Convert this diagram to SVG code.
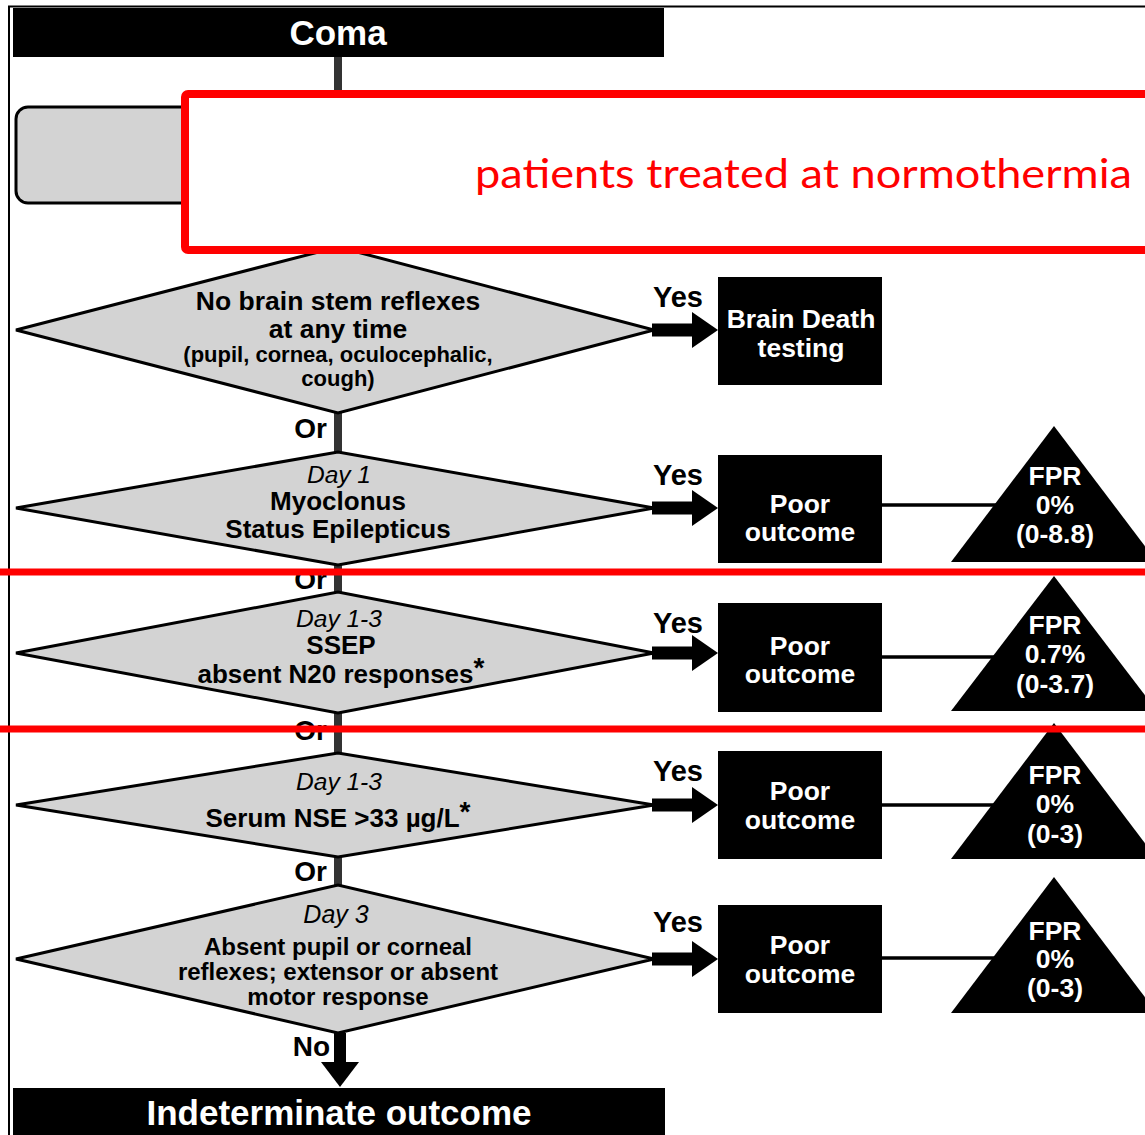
<svg xmlns="http://www.w3.org/2000/svg" width="1145" height="1135" viewBox="0 0 1145 1135">
<defs>
<style>
.t{font-family:"Liberation Sans",Arial,Helvetica,sans-serif;font-weight:bold;text-anchor:middle;}
.w{fill:#fff;}
.k{fill:#000;}
.it{font-style:italic;font-weight:normal;}
.dia{fill:#d3d3d3;stroke:#000;stroke-width:3;stroke-linejoin:miter;}
.box{fill:#000;}
.tri{fill:#000;}
.conn{stroke:#333;stroke-width:8;fill:none;}
.hl{stroke:#000;stroke-width:3.5;fill:none;}
.arr{fill:#000;}
.or{font-size:28px;text-anchor:end;}
.yes{font-size:29px;text-anchor:start;}
.m{font-size:26.5px;}
.dm{font-size:26px;}
.s{font-size:22px;}
.d5{font-size:24px;}
.day{font-size:24.5px;}
.ast{font-size:28px;}
</style>
</defs>
<rect x="0" y="0" width="1145" height="1135" fill="#fff"/>
<path d="M9 1135 V6.5 H1145" stroke="#000" stroke-width="2" fill="none"/>

<g id="connectors">
<line class="conn" x1="338" y1="57" x2="338" y2="107"/>
<line class="conn" x1="338" y1="203" x2="338" y2="247"/>
<line class="conn" x1="338" y1="413" x2="338" y2="452"/>
<line class="conn" x1="338" y1="565" x2="338" y2="592"/>
<line class="conn" x1="338" y1="713" x2="338" y2="753"/>
<line class="conn" x1="338" y1="857" x2="338" y2="885"/>
<rect class="arr" x="334" y="1033" width="12" height="30"/>
<polygon class="arr" points="321,1062 359,1062 340,1087"/>
<text class="t k or" x="327" y="438">Or</text>
<text class="t k or" x="327" y="589">Or</text>
<text class="t k or" x="327" y="740">Or</text>
<text class="t k or" x="327" y="881">Or</text>
<text class="t k or" x="330" y="1056">No</text>
<g id="yes-arrows">
<rect class="arr" x="652" y="323.5" width="41" height="13"/><polygon class="arr" points="692,312 718,330 692,348"/>
<rect class="arr" x="652" y="501.5" width="41" height="13"/><polygon class="arr" points="692,490 718,508 692,526"/>
<rect class="arr" x="652" y="646.5" width="41" height="13"/><polygon class="arr" points="692,635 718,653 692,671"/>
<rect class="arr" x="652" y="798.5" width="41" height="13"/><polygon class="arr" points="692,787 718,805 692,823"/>
<rect class="arr" x="652" y="952.5" width="41" height="13"/><polygon class="arr" points="692,941 718,959 692,977"/>
</g>
<text class="t k yes" x="653" y="307">Yes</text>
<text class="t k yes" x="653" y="485">Yes</text>
<text class="t k yes" x="653" y="633">Yes</text>
<text class="t k yes" x="653" y="781">Yes</text>
<text class="t k yes" x="653" y="932">Yes</text>
<line class="hl" x1="882" y1="505" x2="1054" y2="505"/>
<line class="hl" x1="882" y1="657" x2="1054" y2="657"/>
<line class="hl" x1="882" y1="805" x2="1054" y2="805"/>
<line class="hl" x1="882" y1="958" x2="1054" y2="958"/>
</g>

<g id="coma">
<rect class="box" x="13" y="8" width="651" height="49"/>
<text class="t w" x="338" y="45" font-size="35">Coma</text>
</g>

<g id="rounded-box">
<rect x="16" y="107" width="400" height="96" rx="12" fill="#d3d3d3" stroke="#000" stroke-width="3"/>
</g>

<g id="d1">
<polygon class="dia" points="16,330 338,247 654,330 338,413"/>
<text class="t k m" x="338" y="310">No brain stem reflexes</text>
<text class="t k m" x="338" y="338">at any time</text>
<text class="t k s" x="338" y="362">(pupil, cornea, oculocephalic,</text>
<text class="t k s" x="338" y="386">cough)</text>
</g>

<g id="d2">
<polygon class="dia" points="16,508 338,452 654,508 338,565"/>
<text class="t k day it" x="339" y="483">Day 1</text>
<text class="t k dm" x="338" y="510">Myoclonus</text>
<text class="t k dm" x="338" y="538">Status Epilepticus</text>
</g>

<g id="d3">
<polygon class="dia" points="16,653 338,592 654,653 338,713"/>
<text class="t k day it" x="339" y="627">Day 1-3</text>
<text class="t k dm" x="341" y="654">SSEP</text>
<text class="t k dm" x="341" y="683">absent N20 responses<tspan class="ast" dy="-6">*</tspan></text>
</g>

<g id="d4">
<polygon class="dia" points="16,805 338,753 654,805 338,857"/>
<text class="t k day it" x="339" y="790">Day 1-3</text>
<text class="t k dm" x="338" y="827">Serum NSE &gt;33 µg/L<tspan class="ast" dy="-6">*</tspan></text>
</g>

<g id="d5">
<polygon class="dia" points="16,959 338,885 654,959 338,1033"/>
<text class="t k it" x="336" y="923" font-size="25">Day 3</text>
<text class="t k d5" x="338" y="955">Absent pupil or corneal</text>
<text class="t k d5" x="338" y="980">reflexes; extensor or absent</text>
<text class="t k d5" x="338" y="1005">motor response</text>
</g>

<g id="brain-death">
<rect class="box" x="718" y="277" width="164" height="108"/>
<text class="t w m" x="801" y="328">Brain Death</text>
<text class="t w m" x="801" y="357">testing</text>
</g>

<g id="poor1">
<rect class="box" x="718" y="455" width="164" height="108"/>
<text class="t w m" x="800" y="513">Poor</text>
<text class="t w m" x="800" y="541">outcome</text>
</g>
<g id="poor2">
<rect class="box" x="718" y="603" width="164" height="109"/>
<text class="t w m" x="800" y="655">Poor</text>
<text class="t w m" x="800" y="683">outcome</text>
</g>
<g id="poor3">
<rect class="box" x="718" y="751" width="164" height="108"/>
<text class="t w m" x="800" y="800">Poor</text>
<text class="t w m" x="800" y="829">outcome</text>
</g>
<g id="poor4">
<rect class="box" x="718" y="905" width="164" height="108"/>
<text class="t w m" x="800" y="954">Poor</text>
<text class="t w m" x="800" y="983">outcome</text>
</g>

<g id="fpr1">
<polygon class="tri" points="1054,426 1157,562 951,562"/>
<text class="t w m" x="1055" y="485">FPR</text>
<text class="t w m" x="1055" y="514">0%</text>
<text class="t w m" x="1055" y="543">(0-8.8)</text>
</g>
<g id="fpr2">
<polygon class="tri" points="1054,576 1157,711 951,711"/>
<text class="t w m" x="1055" y="634">FPR</text>
<text class="t w m" x="1055" y="663">0.7%</text>
<text class="t w m" x="1055" y="693">(0-3.7)</text>
</g>
<g id="fpr3">
<polygon class="tri" points="1054,723 1157,859 951,859"/>
<text class="t w m" x="1055" y="784">FPR</text>
<text class="t w m" x="1055" y="813">0%</text>
<text class="t w m" x="1055" y="843">(0-3)</text>
</g>
<g id="fpr4">
<polygon class="tri" points="1054,877 1157,1013 951,1013"/>
<text class="t w m" x="1055" y="940">FPR</text>
<text class="t w m" x="1055" y="968">0%</text>
<text class="t w m" x="1055" y="997">(0-3)</text>
</g>

<g id="indeterminate">
<rect class="box" x="13" y="1088" width="652" height="60"/>
<text class="t w" x="339" y="1125" font-size="35">Indeterminate outcome</text>
</g>

<g id="annotation">
<rect x="185" y="94" width="1000" height="156" rx="3" fill="#fff" stroke="#f00" stroke-width="8"/>
<text x="475" y="188" font-family="Lato,'Open Sans',sans-serif" font-size="40" fill="#f00" textLength="657" lengthAdjust="spacingAndGlyphs">patients treated at normothermia</text>
<rect x="0" y="568.5" width="1145" height="7" fill="#f00"/>
<rect x="0" y="725.5" width="1145" height="7" fill="#f00"/>
</g>
</svg>
